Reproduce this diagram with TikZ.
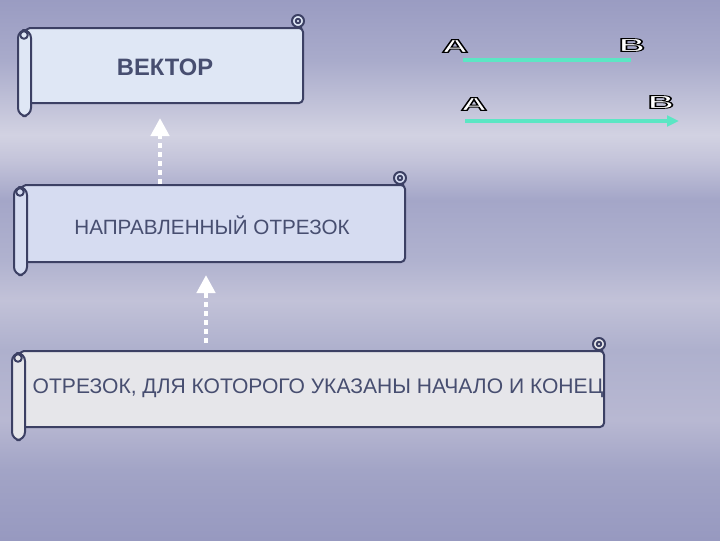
\documentclass[tikz,border=0pt]{standalone}
\usepackage{fontspec}
\setmainfont{Liberation Sans}
\usetikzlibrary{arrows.meta}
\definecolor{bgA}{HTML}{9799C0}
\definecolor{bgB}{HTML}{A2A4C6}
\definecolor{bgC}{HTML}{B8B8D2}
\definecolor{bgD}{HTML}{AEB0CD}
\definecolor{bgE}{HTML}{C2C2D8}
\definecolor{bgF}{HTML}{B0B2CF}
\definecolor{bgG}{HTML}{A4A6C8}
\definecolor{bgH}{HTML}{C4C4DA}
\definecolor{bgI}{HTML}{D2D2E2}
\definecolor{bgJ}{HTML}{A9ABCB}
\definecolor{bgK}{HTML}{9A9CC2}
\pgfdeclareverticalshading{bgshade}{100bp}{color(0bp)=(bgA); color(25bp)=(bgA); color(31.5bp)=(bgB); color(36.1bp)=(bgC); color(42.6bp)=(bgD); color(47.2bp)=(bgE); color(50.9bp)=(bgF); color(56.5bp)=(bgG); color(60.2bp)=(bgH); color(62.5bp)=(bgI); color(69.4bp)=(bgJ); color(75bp)=(bgK); color(100bp)=(bgK)}
\definecolor{scrline}{HTML}{3C4064}
\definecolor{fillone}{HTML}{DFE7F5}
\definecolor{filltwo}{HTML}{D6DCF1}
\definecolor{fillthree}{HTML}{E6E6EA}
\definecolor{txtcol}{HTML}{474E70}
\definecolor{tealcol}{HTML}{5CE6C4}
\newcommand\outlined[1]{\special{pdf:literal direct 2 Tr 0.65 w 0 0 0 RG}#1\special{pdf:literal direct 0 Tr}}
\tikzset{
  scrollline/.style={draw=scrline, line width=1.5pt, line join=round},
  boxtext/.style={text=txtcol, inner sep=0pt, anchor=center},
  dotarrow/.style={draw=white, line width=3.6pt, dash pattern=on 3.8pt off 3pt,
     -{Triangle[length=13.5pt,width=13.5pt,fill=white]}},
  letter/.style={text=white, inner sep=0pt, font=\bfseries\fontsize{14}{14}\selectfont},
  tealline/.style={draw=tealcol, line width=3pt},
}
% #1 roll left x, #2 top y, #3 right x, #4 bottom y, #5 fill
\newcommand\scrollshape[5]{%
  \draw[scrollline, fill=#5, rounded corners=3] (#1+8,#2) rectangle (#3,#4);
  \draw[scrollline, fill=#5] (#3-5,#2-7) circle (6);
  \draw[scrollline] (#3-5,#2-1) -- (#3-1,#2);
  \draw[scrollline] (#3-5,#2-7) circle (2.2);
  \draw[scrollline, fill=#5, rounded corners=6] (#1,#2+2) rectangle (#1+13,#4+13);
  \draw[scrollline] (#1+6,#2+7) circle (3.8);
}
\begin{document}
\begin{tikzpicture}[x=0.75pt,y=-0.75pt]
\useasboundingbox (0,0) rectangle (720,540);
\shade[shading=bgshade] (0,0) rectangle (720,540);

\scrollshape{18}{28}{303}{103}{fillone}
\scrollshape{14}{185}{405}{262}{filltwo}
\scrollshape{12}{351}{604}{427}{fillthree}

\node[boxtext, font=\bfseries\fontsize{17.8}{17.8}\selectfont] (t1) at (165,67) {ВЕКТОР};
\node[boxtext, font=\fontsize{15.5}{15.5}\selectfont] (t2) at (212,225) {НАПРАВЛЕННЫЙ ОТРЕЗОК};
\node[boxtext, font=\fontsize{15.8}{15.8}\selectfont] (t3) at (318,388) {ОТРЕЗОК, ДЛЯ КОТОРОГО УКАЗАНЫ НАЧАЛО И КОНЕЦ};

\coordinate (a1from) at (160,184);
\coordinate (a1to) at (160,118);
\coordinate (a2from) at (206,343);
\coordinate (a2to) at (206,275);
\draw[dotarrow] (a1from) -- (a1to);
\draw[dotarrow] (a2from) -- (a2to);

\node[letter] (A1) at (455,46) {\scalebox{1.95}[1]{\outlined{A}}};
\node[letter] (B1) at (632,45) {\scalebox{1.95}[1]{\outlined{B}}};
\node[letter] (A2) at (474,104) {\scalebox{1.95}[1]{\outlined{A}}};
\node[letter] (B2) at (661,102) {\scalebox{1.95}[1]{\outlined{B}}};

\coordinate (l1s) at (463,60);
\coordinate (l1e) at (631,60);
\coordinate (l2s) at (465,121);
\coordinate (l2e) at (679,121);
\draw[tealline] (l1s) -- (l1e);
\draw[tealline, -{Triangle[length=9pt,width=8pt]}] (l2s) -- (l2e);
\end{tikzpicture}
\end{document}
